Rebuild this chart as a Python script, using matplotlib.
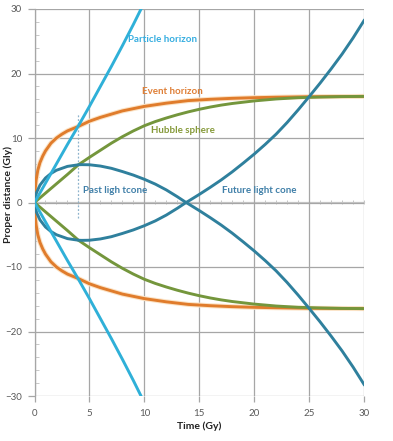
import matplotlib
matplotlib.use("Agg")
import matplotlib.pyplot as plt
from matplotlib.ticker import MultipleLocator
import numpy as np

# ---------------- data ----------------
t_ph = [0, 1, 2, 3, 4, 5, 6, 7, 8, 9, 9.7]
r_ph = [0, 3.0, 6.0, 9.0, 11.9, 14.9, 18.0, 21.1, 24.3, 27.6, 30.0]

t_eh = [0, 0.05, 0.15, 0.3, 0.5, 0.75, 1, 1.5, 2, 2.5, 3, 4, 5, 6, 7, 8,
        10, 12, 14, 16, 18, 20, 22, 25, 28, 30]
r_eh = [0, 1.8, 3.5, 5.0, 6.2, 7.2, 8.0, 9.2, 10.0, 10.6, 11.1, 11.8, 12.6,
        13.2, 13.7, 14.2, 14.9, 15.4, 15.8, 16.0, 16.15, 16.25, 16.32, 16.4,
        16.43, 16.45]

t_hs = [0, 1, 2, 3, 4, 5, 6, 7, 8, 9, 10, 11, 12, 13, 14, 15, 16, 17, 18,
        20, 22, 24, 26, 28, 30]
r_hs = [0, 1.45, 2.9, 4.35, 5.85, 7.0, 8.1, 9.2, 10.2, 11.1, 11.9, 12.55,
        13.1, 13.6, 14.05, 14.45, 14.8, 15.1, 15.35, 15.75, 16.05, 16.25,
        16.35, 16.42, 16.45]

t_lc = [0, 0.05, 0.2, 0.5, 1, 1.5, 2, 3, 4, 4.3, 5, 6, 7, 8, 9, 10, 11, 12,
        13, 13.8, 14, 15, 16, 17, 18, 19, 20, 21, 22, 23, 24, 25, 26, 27, 28,
        29, 30]
r_lc = [0, 0.7, 1.6, 2.7, 3.8, 4.5, 5.0, 5.6, 5.85, 5.87, 5.85, 5.65, 5.3,
        4.8, 4.25, 3.6, 2.85, 1.95, 0.9, 0, -0.2, -1.25, -2.35, -3.5, -4.75,
        -6.1, -7.5, -9.0, -10.6, -12.4, -14.35, -16.4, -18.5, -20.7, -23.0,
        -25.5, -28.2]

t_mark = 4
r_mark = [-2.4, 13.9]

x_ticks = [0, 5, 10, 15, 20, 25, 30]
y_ticks = [-30, -20, -10, 0, 10, 20, 30]

labels = {
    "Particle horizon": (8.55, 25.2),
    "Event horizon": (9.75, 17.2),
    "Hubble sphere": (10.6, 11.2),
    "Past ligh tcone": (4.45, 1.9),
    "Future light cone": (17.1, 1.8),
}

# ---------------- styling ----------------
c_ph = "#2fb0d8"
c_eh = "#e07c2c"
c_eh_glow = "#fbe3c6"
c_hs = "#74963c"
c_lc = "#2f809d"
grid_c = "#a6a6a6"
txt_c = "#595959"
font = "Lato"

fig = plt.figure(figsize=(3.93, 4.41), dpi=100)
ax = fig.add_axes([34.5 / 393, 45 / 441, (364 - 34.5) / 393, (432 - 45) / 441])

ax.set_xlim(0, 30)
ax.set_ylim(-30, 30)

lw = 2.1
for sgn in (1, -1):
    r = np.array(r_eh) * sgn
    ax.plot(t_eh, r, color=c_eh_glow, lw=3.6, solid_capstyle="butt", zorder=2)
    ax.plot(t_eh, r, color=c_eh, lw=lw, zorder=3)
    ax.plot(t_hs, np.array(r_hs) * sgn, color=c_hs, lw=lw, zorder=3)
    ax.plot(t_lc, np.array(r_lc) * sgn, color=c_lc, lw=lw, zorder=4)
    ax.plot(t_ph, np.array(r_ph) * sgn, color=c_ph, lw=lw, zorder=5)

ax.plot([t_mark, t_mark], r_mark, color="#8db3cc", lw=0.9, ls=(0, (1.5, 1.5)), zorder=1)

# grid / axes
ax.set_xticks(x_ticks)
ax.set_yticks(y_ticks)
ax.grid(True, color=grid_c, lw=0.9, zorder=0)
for s in ("top", "right", "bottom"):
    ax.spines[s].set_visible(False)
ax.spines["left"].set_color(grid_c)
ax.spines["left"].set_linewidth(0.9)
ax.yaxis.set_minor_locator(MultipleLocator(2))
ax.tick_params(axis="y", which="major", length=5, color=grid_c, width=0.9,
               labelsize=7, labelcolor=txt_c, pad=4)
ax.tick_params(axis="y", which="minor", length=3, color="#c8c8c8", width=0.7,
               direction="in")
ax.tick_params(axis="x", which="major", length=4, color=grid_c, width=0.9,
               labelsize=7, labelcolor=txt_c, pad=5)
for lab in ax.get_xticklabels() + ax.get_yticklabels():
    lab.set_fontfamily(font)

# horizontal axis through zero with minor ticks
sec = ax.secondary_xaxis(0.5)
sec.set_xticks(x_ticks)
sec.xaxis.set_minor_locator(MultipleLocator(1))
sec.tick_params(which="both", labelbottom=False, labeltop=False,
                length=3, direction="inout", color="#c4c4c4", width=0.7)
for sp in sec.spines.values():
    sp.set_color("#c8c8c8")
    sp.set_linewidth(0.9)

ax.set_xlabel("Time (Gy)", fontfamily=font, fontweight="bold", fontsize=7.5,
              color="#222222", labelpad=3)
ax.set_ylabel("Proper distance (Gly)", fontfamily=font, fontweight="bold",
              fontsize=7.5, color="#222222")
ax.yaxis.set_label_coords(-0.066, 0.52)

label_colors = {
    "Particle horizon": "#35ade0",
    "Event horizon": "#df7f36",
    "Hubble sphere": "#869a3a",
    "Past ligh tcone": "#3f7fa8",
    "Future light cone": "#3f7fa8",
}
for name, (x, y) in labels.items():
    ax.text(x, y, name, color=label_colors[name], fontsize=7, fontweight="bold",
            fontfamily=font, va="center", ha="left", zorder=6)

fig.savefig("out.png", dpi=100)
